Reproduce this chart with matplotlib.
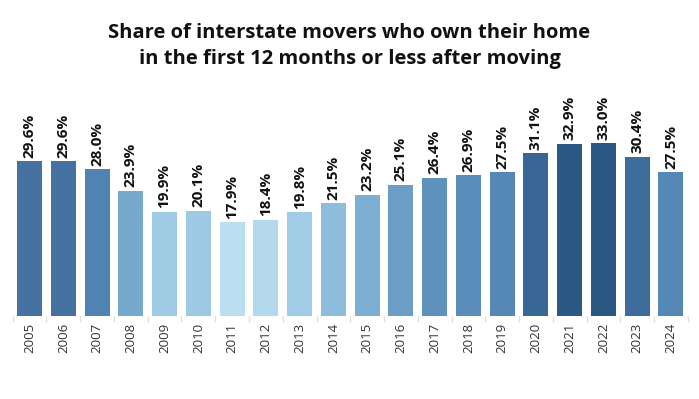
import numpy as np
import matplotlib
matplotlib.use("Agg")
import matplotlib.pyplot as plt
from matplotlib.colors import LinearSegmentedColormap

years = [str(y) for y in range(2005, 2025)]
share = [29.6, 29.6, 28.0, 23.9, 19.9, 20.1, 17.9, 18.4, 19.8, 21.5,
         23.2, 25.1, 26.4, 26.9, 27.5, 31.1, 32.9, 33.0, 30.4, 27.5]

title = "Share of interstate movers who own their home\nin the first 12 months or less after moving"

# light -> dark blue, mapped on value
cmap = LinearSegmentedColormap.from_list("blues", [
    (0.00, "#bbdef0"), (0.13, "#9fcbe5"), (0.40, "#76a8cd"),
    (0.67, "#5083b2"), (0.77, "#4673a1"), (0.87, "#3a6896"),
    (1.00, "#2b5783")])

plt.rcParams['font.family'] = ['Open Sans', 'DejaVu Sans']

fig = plt.figure(figsize=(6.99, 3.99), dpi=100)
ax = fig.add_axes([0.0182, 0.208, 0.9658, 0.4987])

vals = np.array(share)
norm = (vals - vals.min()) / (vals.max() - vals.min())
x = np.arange(len(years))
ax.bar(x, vals, width=0.74, color=cmap(norm), zorder=2)

for xi, v in zip(x, vals):
    ax.annotate(f"{v:.1f}%", (xi, v), xytext=(0, 2.5), textcoords="offset points",
                rotation=90, ha="center", va="bottom", fontsize=11,
                fontweight="bold", color="#111111")

ax.set_xlim(-0.5, len(years) - 0.5)
ax.set_ylim(0, 38)
ax.set_xticks(x)
ax.set_xticklabels(years, rotation=90, fontsize=9.5, color="#333333")
ax.tick_params(axis="x", which="major", length=0, pad=5)
ax.set_xticks(np.arange(-0.5, len(years)), minor=True)
ax.tick_params(axis="x", which="minor", length=4, color="#e0e0e0", width=1)
ax.set_yticks([])
for s in ax.spines.values():
    s.set_visible(False)

fig.text(0.5, 0.885, title, ha="center", va="center", fontsize=14.5,
         fontweight="bold", color="#111111", linespacing=1.45)

fig.savefig("out.png", dpi=100)
